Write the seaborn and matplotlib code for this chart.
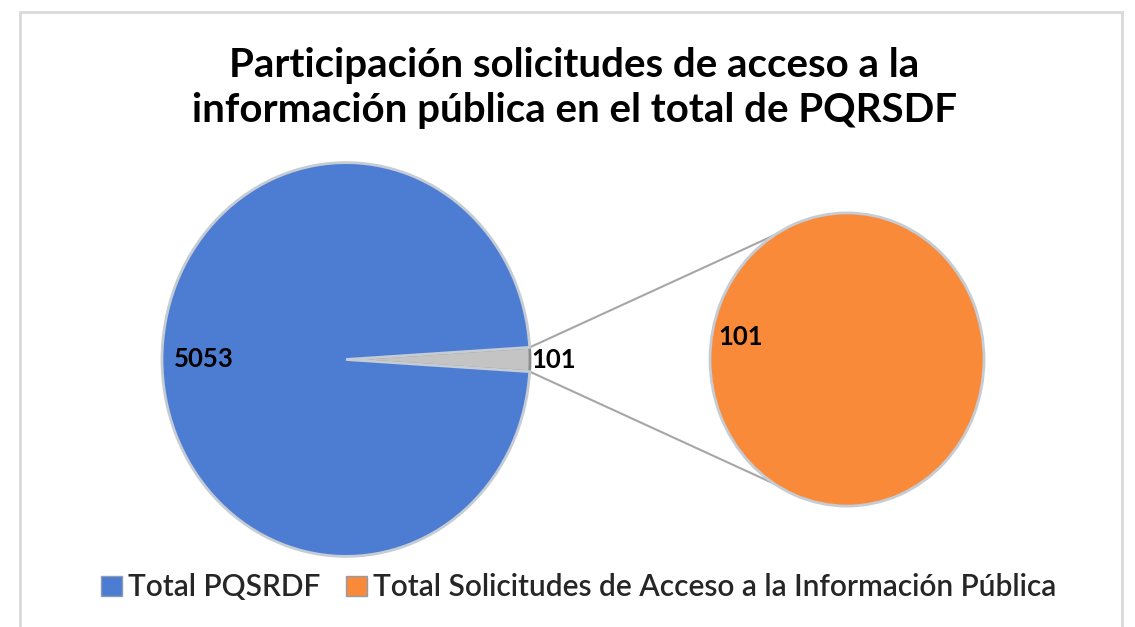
import numpy as np
import matplotlib.pyplot as plt
import seaborn as sns
from matplotlib.patches import Patch, Rectangle

# datos
categorias = ['Total PQSRDF', 'Total Solicitudes de Acceso a la Información Pública']
total_pqrsdf = 5053
solicitudes = 101
valores_izq = [solicitudes, total_pqrsdf]   # gris (otros) + azul
valores_der = [solicitudes]                 # desglose en naranja
titulo = 'Participación solicitudes de acceso a la\ninformación pública en el total de PQRSDF'

sns.set_theme(style='white')
plt.rcParams['font.family'] = ['Lato', 'DejaVu Sans']

azul = '#4d7dd3'
naranja = '#f98a3a'
gris = '#c4c4c4'
borde = '#c5ccd3'

fig = plt.figure(figsize=(11.35, 6.27), dpi=100)
ax = fig.add_axes([0, 0, 1, 1])
sy = 1.07  # la imagen original esta algo estirada en vertical

c_izq, r_izq = (346, 250), 184
c_der, r_der = (847, 250), 137

frac = solicitudes / sum(valores_izq)
w_izq, _ = ax.pie(valores_izq, colors=[gris, azul], startangle=-frac * 180,
                  center=c_izq, radius=r_izq,
                  wedgeprops=dict(edgecolor=borde, linewidth=2))
w_der, _ = ax.pie(valores_der, colors=[naranja], startangle=0,
                  center=c_der, radius=r_der,
                  wedgeprops=dict(edgecolor=borde, linewidth=2))
w_izq[0].set_edgecolor('#8c8c8c')

ax.set_aspect('auto')
ax.set_xlim(0, 1135)
ax.set_ylim(0, 627 / sy)
ax.axis('off')


def punto(c, r, ang, f=1.0):
    a = np.deg2rad(ang)
    return c[0] + f * r * np.cos(a), c[1] + f * r * np.sin(a)


# lineas de union entre la porcion gris y el segundo pastel
g = w_izq[0]
for a1, a2 in [(g.theta2, 122), (g.theta1, -122)]:
    x1, y1 = punto(c_izq, r_izq, a1)
    x2, y2 = punto(c_der, r_der, a2)
    ax.plot([x1, x2], [y1, y2], color='#a6a6a6', lw=1.5, zorder=0)

# etiquetas de datos
b = w_izq[1]
mx, my = punto(c_izq, r_izq, (b.theta1 + b.theta2) / 2, 0.775)
ax.text(mx, my, str(total_pqrsdf), ha='center', va='center', fontsize=18.5, fontweight='bold', color='black')
mx, my = punto(c_izq, r_izq, (g.theta1 + g.theta2) / 2, 1.13)
ax.text(mx, my, str(solicitudes), ha='center', va='center', fontsize=18.5, fontweight='bold', color='black')
mx, my = punto(c_der, r_der, 169, 0.79)
ax.text(mx, my, str(valores_der[0]), ha='center', va='center', fontsize=18.5, fontweight='bold', color='black')

fig.text(0.506, 0.86, titulo, ha='center', va='center', fontsize=29,
         fontweight='bold', linespacing=1.28, color='black')

handles = [Patch(facecolor=azul, edgecolor='#8e9bb0'), Patch(facecolor=naranja, edgecolor='#8e9bb0')]
fig.legend(handles, categorias, loc='center', bbox_to_anchor=(0.51, 0.063), ncol=2,
           frameon=False, prop=dict(family=['Lato', 'DejaVu Sans'], size=21.5, weight='semibold'),
           handlelength=0.7, handleheight=0.7, handletextpad=0.2, columnspacing=0.85)

fig.add_artist(Rectangle((20 / 1135, -0.02), 1102 / 1135, 1.01 - 6 / 627, transform=fig.transFigure,
                         fill=False, edgecolor='#d9d9d9', lw=2))

fig.savefig('out.png', dpi=100)
